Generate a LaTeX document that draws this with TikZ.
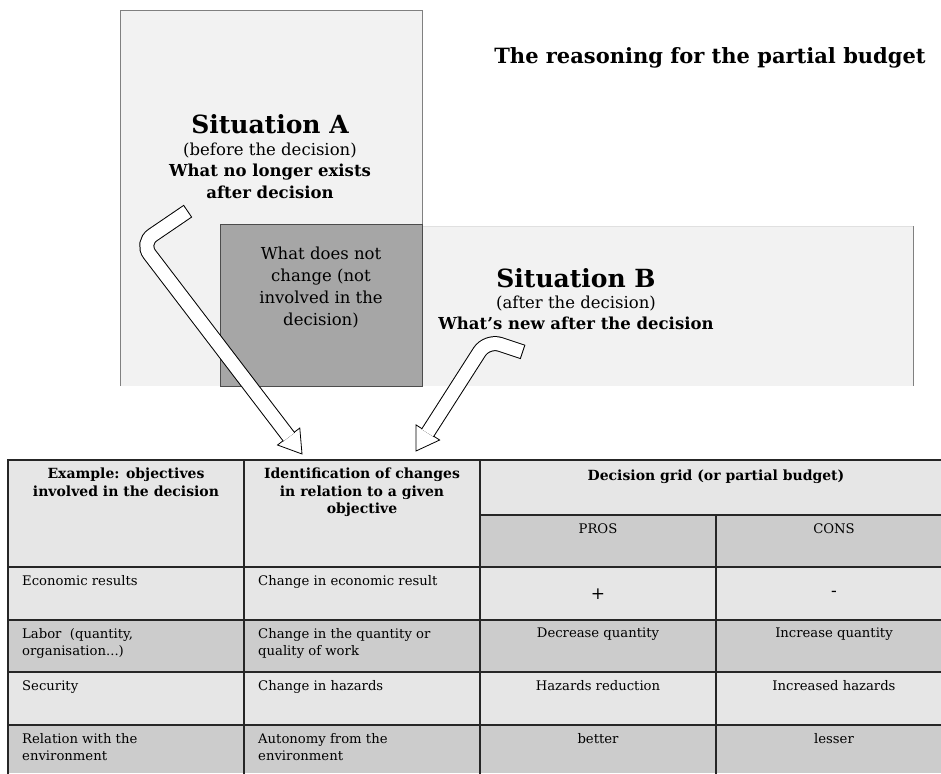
\documentclass[tikz,border=0pt]{standalone}
\usepackage{fontspec}
\setmainfont{DejaVu Serif}
\usetikzlibrary{positioning,calc}

\definecolor{paleA}{HTML}{F2F2F2}
\definecolor{midgrey}{HTML}{A6A6A6}
\definecolor{celllight}{HTML}{E6E6E6}
\definecolor{celldark}{HTML}{CCCCCC}

\tikzset{
  hdtext/.style={font=\fontsize{14}{17.5}\selectfont\bfseries, align=center, anchor=north, inner sep=0pt},
  celltext/.style={font=\fontsize{13.2}{17}\selectfont, align=left, anchor=north west, inner sep=0pt},
  midtext/.style={font=\fontsize{13.2}{17}\selectfont, align=center, anchor=north, inner sep=0pt},
  gridline/.style={black!85, line width=1.4pt},
}

\begin{document}
\begin{tikzpicture}[x=1pt,y=-1pt]
  \useasboundingbox (0,0) rectangle (941,773);

  % the two situations
  \fill[paleA] (120,10) rectangle (422,386);
  \draw[gray] (120,386) -- (120,10) -- (422,10) -- (422,224);
  \fill[paleA] (422,226) rectangle (913,386);
  \draw[black!12] (422,226) -- (913,226);
  \draw[gray, line width=0.8pt] (913,226) -- (913,386);
  \draw[fill=midgrey, draw=black!70, line width=0.8pt] (220,224) rectangle (422,386);

  \node[font=\fontsize{21}{24}\selectfont\bfseries] (title) at (710,58) {The reasoning for the partial budget};

  \node[font=\fontsize{25}{28}\selectfont\bfseries] (sitA) at (270,124) {Situation A};
  \node[below=2pt of sitA, align=center, font=\fontsize{16.5}{21.5}\selectfont] (descA)
    {(before the decision)\\\textbf{What no longer exists}\\\textbf{after decision}};

  \node[align=center, font=\fontsize{16.5}{22}\selectfont] (nochange) at (321,288)
    {What does not\\change (not\\involved in the\\decision)};

  \node[font=\fontsize{25}{28}\selectfont\bfseries] (sitB) at (576,278) {Situation B};
  \node[below=1pt of sitB, align=center, font=\fontsize{16.5}{21.5}\selectfont] (descB)
    {(after the decision)\\\textbf{What's new after the decision}};

  % table
  \fill[celllight] (8,460) rectangle (941,773);
  \fill[celldark] (480,515) rectangle (941,567);
  \fill[celldark] (8,620) rectangle (941,672);
  \fill[celldark] (8,725) rectangle (941,773);
  \draw[gridline] (8,775) -- (8,460) -- (945,460);
  \draw[gridline] (244,460) -- (244,775);
  \draw[gridline] (480,460) -- (480,775);
  \draw[gridline] (716,515) -- (716,775);
  \draw[gridline] (480,515) -- (945,515);
  \foreach \y in {567,620,672,725}
    \draw[gridline] (8,\y) -- (945,\y);

  \node[hdtext] (hdobj) at (126,468) {Example: objectives\\involved in the decision};
  \node[hdtext] (hdchg) at (362,468) {Identification of changes\\in relation to a given\\objective};
  \node[hdtext] (hdgrid) at (716,470) {Decision grid (or partial budget)};
  \node[midtext] (pros) at (598,523) {PROS};
  \node[midtext] (cons) at (834,523) {CONS};

  \node[celltext] (econ) at (22,575) {Economic results};
  \node[celltext] (econchg) at (258,575) {Change in economic result};
  \node[font=\fontsize{17}{18}\selectfont] (plus) at (598,594) {+};
  \node[font=\fontsize{17}{18}\selectfont] (minus) at (834,594) {-};

  \node[celltext] (labor) at (22,628) {Labor\ \ (quantity,\\organisation...)};
  \node[celltext] (laborchg) at (258,628) {Change in the quantity or\\quality of work};
  \node[midtext] (labpro) at (598,628) {Decrease quantity};
  \node[midtext] (labcon) at (834,628) {Increase quantity};

  \node[celltext] (secu) at (22,680) {Security};
  \node[celltext] (secuchg) at (258,680) {Change in hazards};
  \node[midtext] (secpro) at (598,680) {Hazards reduction};
  \node[midtext] (seccon) at (834,680) {Increased hazards};

  \node[celltext] (envi) at (22,733) {Relation with the\\environment};
  \node[celltext] (envichg) at (258,733) {Autonomy from the\\environment};
  \node[midtext] (envpro) at (598,733) {better};
  \node[midtext] (envcon) at (834,733) {lesser};

  % hollow bent arrows
  \coordinate (tailA) at (188,211);
  \coordinate (bendA) at (141,243);
  \coordinate (tipA) at (302,454);
  \coordinate (baseA) at ($(tipA)!22pt!(bendA)$);
  \draw[fill=white, line width=0.8pt] (tipA) -- ($(baseA)!14pt!90:(tipA)$) -- ($(baseA)!14pt!-90:(tipA)$) -- cycle;
  \draw[line width=15pt, rounded corners=14pt] (tailA) -- (bendA) -- ($(tipA)!21.4pt!(bendA)$);
  \draw[white, line width=13pt, rounded corners=14pt, shorten <=1pt] (tailA) -- (bendA) -- ($(tipA)!21.4pt!(bendA)$);

  \coordinate (tailB) at (523,352);
  \coordinate (bendB) at (487,340);
  \coordinate (tipB) at (416,451);
  \coordinate (baseB) at ($(tipB)!22pt!(bendB)$);
  \draw[fill=white, line width=0.8pt] (tipB) -- ($(baseB)!14pt!90:(tipB)$) -- ($(baseB)!14pt!-90:(tipB)$) -- cycle;
  \draw[line width=15pt, rounded corners=14pt] (tailB) -- (bendB) -- ($(tipB)!21.4pt!(bendB)$);
  \draw[white, line width=13pt, rounded corners=14pt, shorten <=1pt] (tailB) -- (bendB) -- ($(tipB)!21.4pt!(bendB)$);
\end{tikzpicture}
\end{document}
